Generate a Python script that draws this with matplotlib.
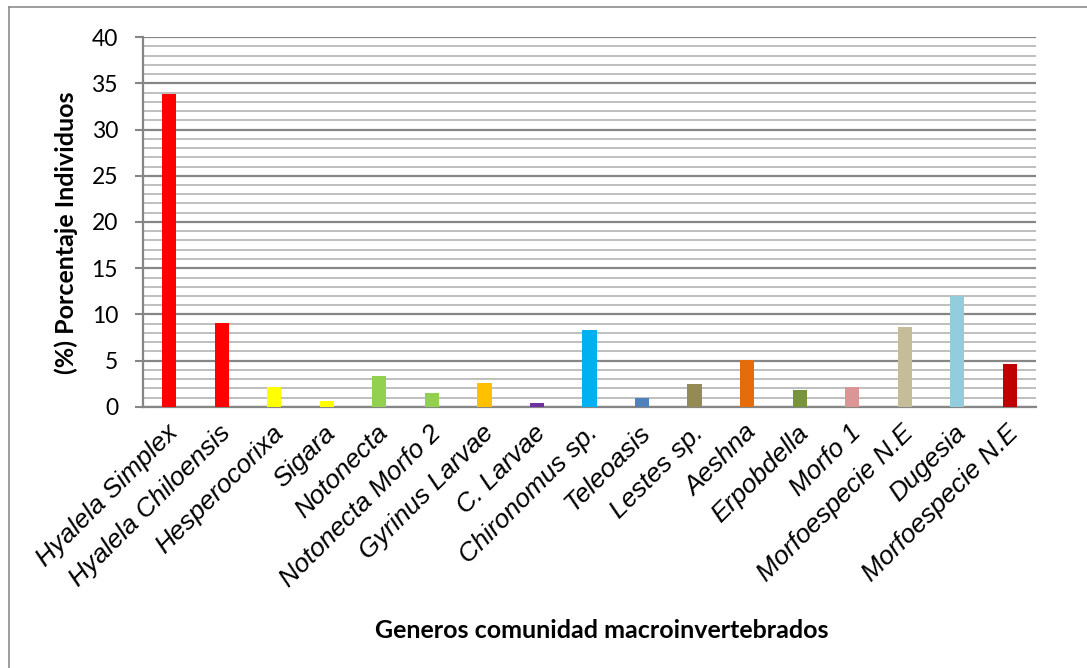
import matplotlib
matplotlib.use("Agg")
import matplotlib.pyplot as plt
from matplotlib.lines import Line2D
import matplotlib.transforms as mtransforms
import numpy as np

categories = ["Hyalela Simplex", "Hyalela Chiloensis", "Hesperocorixa", "Sigara",
              "Notonecta", "Notonecta Morfo 2", "Gyrinus Larvae", "C. Larvae",
              "Chironomus sp.", "Teleoasis", "Lestes sp.", "Aeshna", "Erpobdella",
              "Morfo 1", "Morfoespecie N.E", "Dugesia", "Morfoespecie N.E"]
values = [33.8, 9.1, 2.2, 0.7, 3.3, 1.5, 2.6, 0.4, 8.3, 1.0, 2.5, 5.1, 1.8,
          2.2, 8.7, 12.0, 4.7]
colors = ["#FF0000", "#FF0000", "#FFFF00", "#FFFF00", "#92D050", "#92D050",
          "#FFC000", "#7030A0", "#00B0F0", "#4F81BD", "#948A54", "#E46C0A",
          "#77933C", "#D99694", "#C4BD97", "#93CDDD", "#C00000"]
yticks = [0, 5, 10, 15, 20, 25, 30, 35, 40]

W, H = 1087, 668
fig = plt.figure(figsize=(W / 100, H / 100), dpi=100)
ax = fig.add_axes([143 / W, 1 - 407 / H, (1036 - 143) / W, (407 - 37) / H])

x = np.arange(len(categories))
ax.bar(x, values, width=0.27, color=colors, zorder=3)
ax.set_xlim(-0.5, len(categories) - 0.5)
ax.set_ylim(0, 40)

ax.set_yticks(yticks)
ax.set_yticks(np.arange(0, 41, 1), minor=True)
ax.grid(which="minor", axis="y", color="#BFBFBF", lw=1.4, zorder=0)
ax.grid(which="major", axis="y", color="#868686", lw=1.6, zorder=1)
ax.tick_params(axis="y", which="major", length=6, width=1.5, color="#868686",
               pad=12, labelsize=16.5)
ax.tick_params(axis="y", which="minor", length=0)
for lab in ax.get_yticklabels():
    lab.set_fontfamily("Lato")

ax.set_xticks(x)
ax.set_xticklabels(categories, rotation=45, ha="right", va="center",
                   rotation_mode="anchor", fontsize=19, style="italic",
                   family="Liberation Sans")
ax.tick_params(axis="x", length=0, pad=16)
offset = mtransforms.ScaledTranslation(5 / 100, 0, fig.dpi_scale_trans)
for lab in ax.get_xticklabels():
    lab.set_transform(lab.get_transform() + offset)

for s in ["top", "right"]:
    ax.spines[s].set_visible(False)
for s in ["left", "bottom"]:
    ax.spines[s].set_color("#868686")
    ax.spines[s].set_linewidth(1.6)

fig.text(66 / W, 1 - 233 / H, "(%) Porcentaje Individuos", rotation=90,
         ha="center", va="center", fontsize=18, fontweight="bold", family="Lato")
fig.text(602 / W, 1 - 630 / H, "Generos comunidad macroinvertebrados",
         ha="center", va="center", fontsize=18, fontweight="bold", family="Lato")

fig.add_artist(Line2D([9 / W, 9 / W], [1 - 7 / H, 0], transform=fig.transFigure,
                      color="#8C8C8C", lw=1.2))
fig.add_artist(Line2D([9 / W, 1], [1 - 7 / H, 1 - 7 / H], transform=fig.transFigure,
                      color="#8C8C8C", lw=1.2))

fig.savefig("out.png", dpi=100, facecolor="white")
